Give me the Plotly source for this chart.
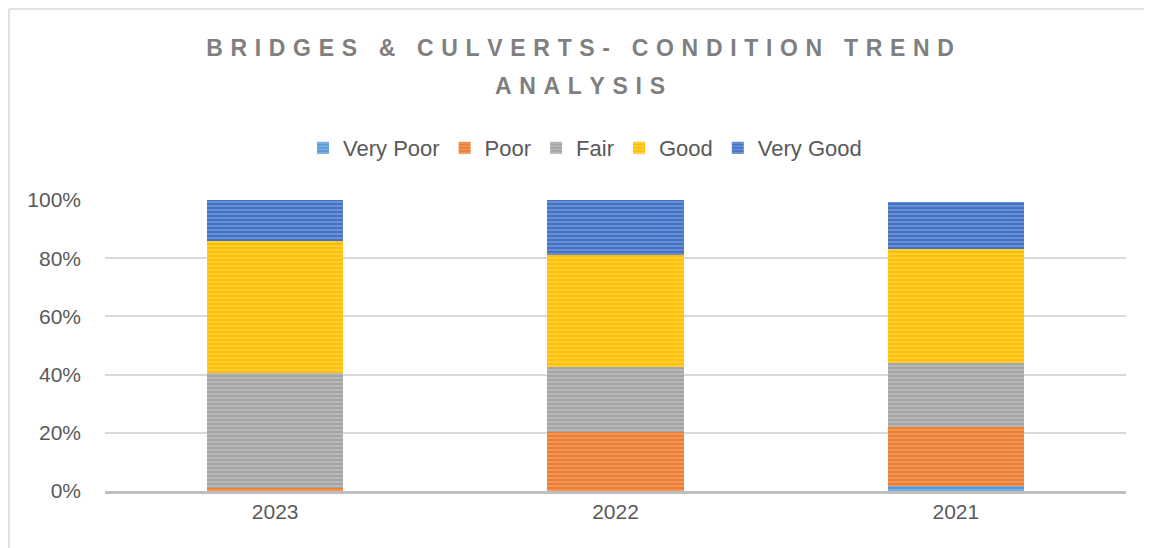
import plotly.graph_objects as go

years = ["2023", "2022", "2021"]
very_poor = [0.0, 0.0, 1.7]
poor = [1.2, 20.4, 20.4]
fair = [39.4, 22.1, 21.9]
good = [45.3, 38.6, 39.1]
very_good = [14.1, 18.9, 16.3]

y_ticks = [0, 20, 40, 60, 80, 100]
y_tick_labels = ["0%", "20%", "40%", "60%", "80%", "100%"]

SERIES = [
    ("Very Poor", very_poor, "#5b9bd5", "#a9cbeb"),
    ("Poor", poor, "#ed7d31", "#f7bb92"),
    ("Fair", fair, "#a5a5a5", "#d6d6d6"),
    ("Good", good, "#ffc000", "#ffe38a"),
    ("Very Good", very_good, "#4472c4", "#a3bbe6"),
]

FONT = "Liberation Sans, Arial, sans-serif"
GREY_TEXT = "#595959"
TITLE_GREY = "#7f7f7f"
BORDER = "#d9d9d9"

# figure placed after the page's 8px body margin
W, H = 1144, 540
L, T, PW, PH = 97, 192, 1021, 291

fig = go.Figure()
for name, values, color, stripe in SERIES:
    fig.add_trace(
        go.Bar(
            name=name,
            x=years,
            y=values,
            width=0.4,
            marker={
                "color": color,
                "line": {"width": 0},
                "pattern": {
                    "shape": "-",
                    "bgcolor": color,
                    "fgcolor": stripe,
                    "size": 4,
                    "solidity": 0.4,
                },
            },
        )
    )

sp = "\u2004"
title_lines = ["BRIDGES & CULVERTS- CONDITION TREND", "ANALYSIS"]
title_font = {"family": FONT, "size": 23, "color": TITLE_GREY, "weight": "bold"}

fig.add_annotation(
    text=sp.join(title_lines[1]),
    xref="paper",
    yref="paper",
    x=(572 - L) / PW,
    y=(T + PH - 78) / PH,
    xanchor="center",
    yanchor="middle",
    showarrow=False,
    font=title_font,
)

# chart-area frame: only left and top edges are visible in the crop
top_y = 1 + (T - 1) / PH
left_x = -(L - 1) / PW
fig.add_shape(type="line", xref="paper", yref="paper",
              x0=left_x, x1=3, y0=top_y, y1=top_y,
              line={"color": BORDER, "width": 1.5}, layer="below")
fig.add_shape(type="line", xref="paper", yref="paper",
              x0=left_x, x1=left_x, y0=-1, y1=top_y,
              line={"color": BORDER, "width": 1.5}, layer="below")

fig.update_layout(
    barmode="stack",
    width=W,
    height=H,
    margin={"l": L, "r": W - L - PW, "t": T, "b": H - T - PH},
    paper_bgcolor="white",
    plot_bgcolor="white",
    font={"family": FONT, "size": 21, "color": GREY_TEXT},
    title={
        "text": sp.join(title_lines[0]),
        "font": title_font,
        "x": 572 / W,
        "xanchor": "center",
        "xref": "container",
        "yref": "container",
        "y": 1 - 40 / H,
        "yanchor": "middle",
    },
    legend={
        "orientation": "h",
        "x": (577 - L) / PW,
        "xanchor": "center",
        "y": (T + PH - 140) / PH,
        "yanchor": "middle",
        "font": {"size": 22, "color": GREY_TEXT},
        "traceorder": "normal",
        "itemwidth": 30,
    },
    xaxis={
        "showgrid": False,
        "showline": True,
        "linecolor": "#bfbfbf",
        "linewidth": 2.5,
        "ticks": "",
        "tickfont": {"size": 21, "color": GREY_TEXT},
    },
    yaxis={
        "range": [0, 100],
        "tickmode": "array",
        "tickvals": y_ticks,
        "ticktext": y_tick_labels,
        "showgrid": True,
        "gridcolor": "#d9d9d9",
        "gridwidth": 1.5,
        "zeroline": False,
        "ticks": "",
        "ticklabelstandoff": 23,
        "tickfont": {"size": 21, "color": GREY_TEXT},
    },
)

fig.write_html("out.html")
